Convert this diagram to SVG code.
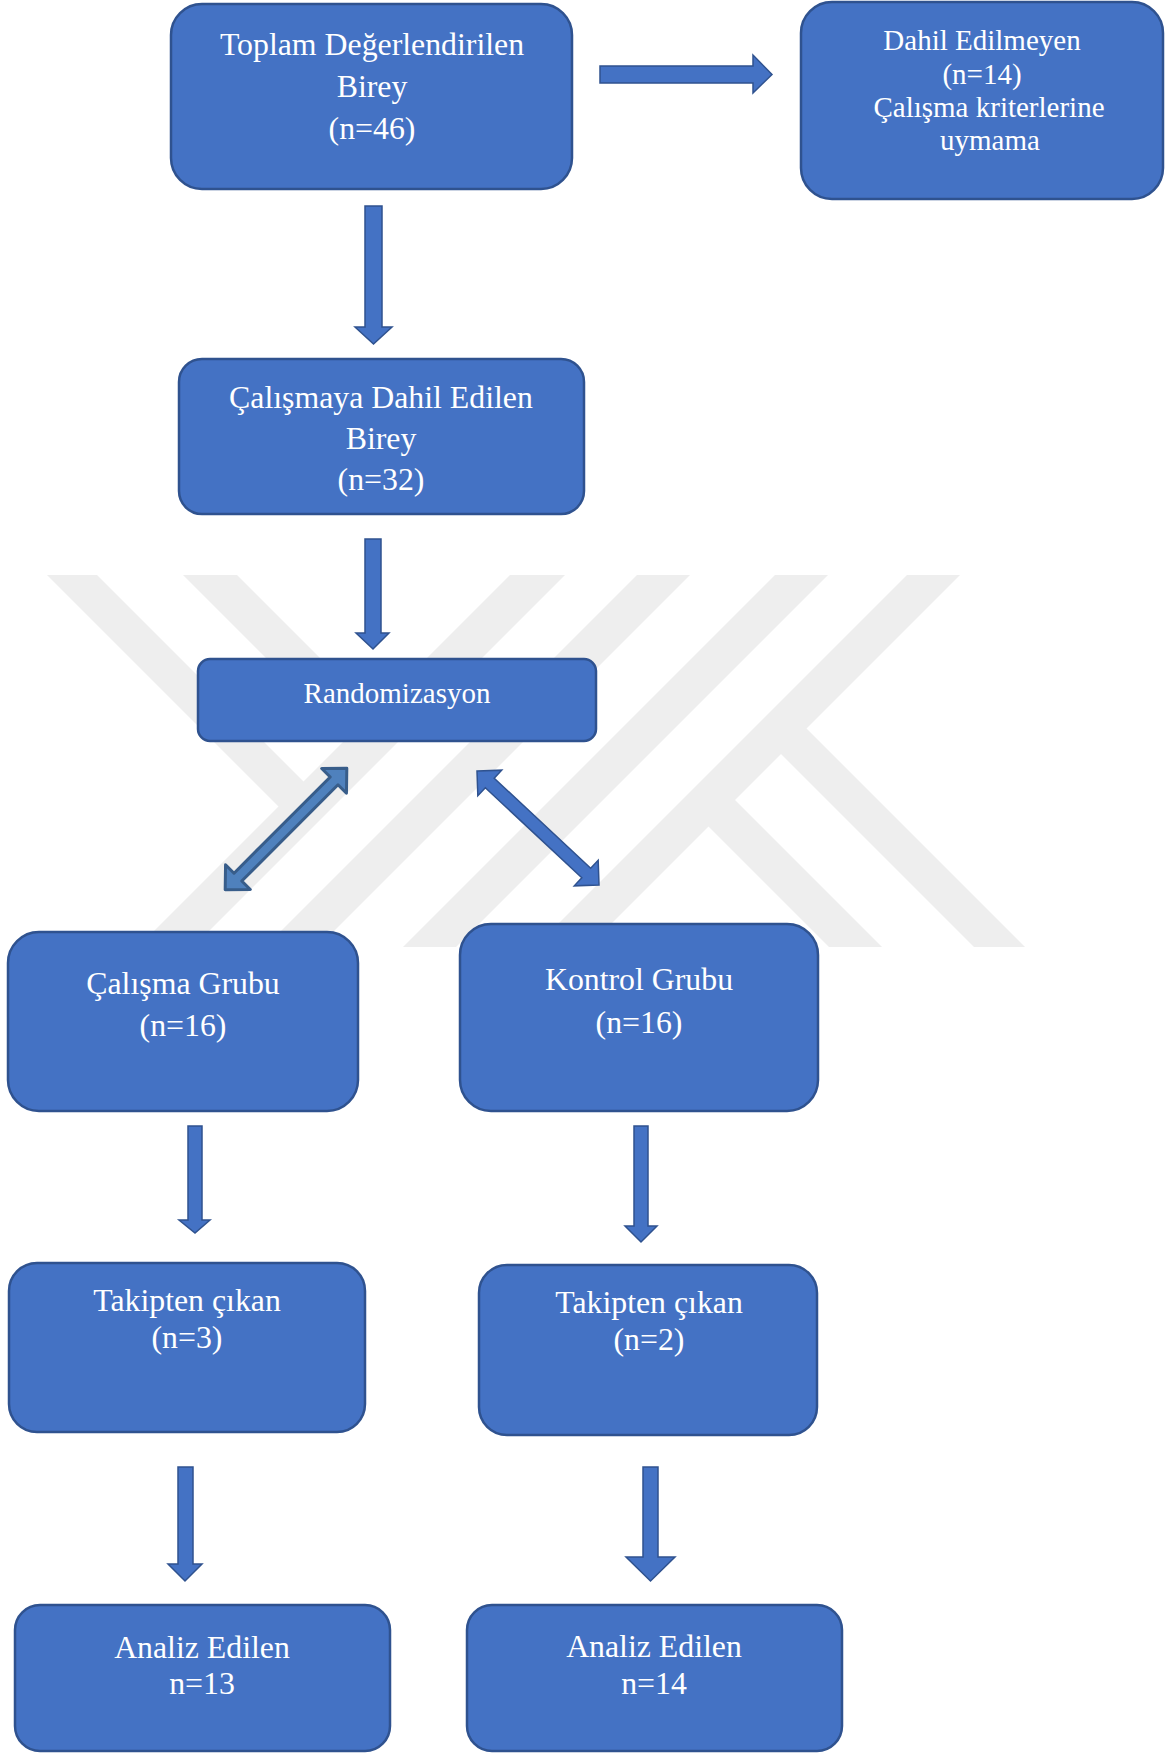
<svg xmlns="http://www.w3.org/2000/svg" width="1166" height="1753" viewBox="0 0 1166 1753">
<style>
.box{fill:#4472C4;stroke:#2F528F;stroke-width:2.5}
.t{font-family:"Liberation Serif","Times New Roman",serif;font-size:31.8px;fill:#ffffff;text-anchor:middle}
.ts{font-size:29px}
.arr{fill:#4472C4;stroke:#2F528F;stroke-width:1.5;stroke-linejoin:miter}
.arr2{fill:#4F81BD;stroke:#385D8A;stroke-width:3;stroke-linejoin:round}
.wm{fill:#eeeeee}
</style>
<rect width="1166" height="1753" fill="#ffffff"/>
<g id="watermark">
<polygon class="wm" points="510,575 565,575 193,947 138,947"/>
<polygon class="wm" points="637,575 690,575 318,947 265,947"/>
<polygon class="wm" points="775,575 828,575 456,947 403,947"/>
<polygon class="wm" points="907,575 960,575 588,947 535,947"/>
<polygon class="wm" points="47,575 97,575 311,789 286,814"/>
<polygon class="wm" points="183,575 237,575 381,719 354,746"/>
<polygon class="wm" points="799,721 1025,947 974,947 773.5,746.5"/>
<polygon class="wm" points="727.5,792.5 882,947 829,947 701,819"/>
</g>
<g id="connectors">
<polygon class="arr" points="600,66 753,66 753,55 772,74.5 753,93 753,83 600,83"/>
<polygon class="arr" points="365,206 382,206 382,327 392,327 373.5,344 355,327 365,327"/>
<polygon class="arr" points="365,539 381,539 381,633 389,633 373,649 356,633 365,633"/>
<polygon class="arr2" transform="translate(286,829) rotate(-45)" points="-86,0 -68,-17.5 -68,-5.5 68,-5.5 68,-17.5 86,0 68,17.5 68,5.5 -68,5.5 -68,17.5"/>
<polygon class="arr" transform="translate(538,828) rotate(43.06)" points="-83.5,0 -66,-17.5 -66,-6.5 66,-6.5 66,-17.5 83.5,0 66,17.5 66,6.5 -66,6.5 -66,17.5"/>
<polygon class="arr" points="188,1126 202,1126 202,1220 210,1220 195,1233 179,1220 188,1220"/>
<polygon class="arr" points="634,1126 648,1126 648,1226 657,1226 641,1242 625,1226 634,1226"/>
<polygon class="arr" points="178,1467 193,1467 193,1564 202,1564 185,1581 168,1564 178,1564"/>
<polygon class="arr" points="643,1467 658,1467 658,1557 675,1557 650.5,1581 626,1557 643,1557"/>
</g>
<g id="n-toplam">
<rect class="box" x="171" y="4" width="401" height="185" rx="31"/>
<text class="t" x="372" y="55">Toplam Değerlendirilen</text>
<text class="t" x="372" y="97">Birey</text>
<text class="t" x="372" y="139">(n=46)</text>
</g>
<g id="n-dahil-edilmeyen">
<rect class="box" x="801" y="2" width="362" height="197" rx="31"/>
<text class="t ts" x="982" y="50">Dahil Edilmeyen</text>
<text class="t ts" x="982" y="84">(n=14)</text>
<text class="t ts" x="989" y="117">Çalışma kriterlerine</text>
<text class="t ts" x="990" y="150">uymama</text>
</g>
<g id="n-dahil-edilen">
<rect class="box" x="179" y="359" width="405" height="155" rx="23"/>
<text class="t" x="381" y="408">Çalışmaya Dahil Edilen</text>
<text class="t" x="381" y="449">Birey</text>
<text class="t" x="381" y="490">(n=32)</text>
</g>
<g id="n-randomizasyon">
<rect class="box" x="198" y="659" width="398" height="82" rx="12"/>
<text class="t ts" x="397" y="703">Randomizasyon</text>
</g>
<g id="n-calisma-grubu">
<rect class="box" x="8" y="932" width="350" height="179" rx="31"/>
<text class="t" x="183" y="994">Çalışma Grubu</text>
<text class="t" x="183" y="1036">(n=16)</text>
</g>
<g id="n-kontrol-grubu">
<rect class="box" x="460" y="924" width="358" height="187" rx="31"/>
<text class="t" x="639" y="990">Kontrol Grubu</text>
<text class="t" x="639" y="1033">(n=16)</text>
</g>
<g id="n-takip-1">
<rect class="box" x="9" y="1263" width="356" height="169" rx="28"/>
<text class="t" x="187" y="1311">Takipten çıkan</text>
<text class="t" x="187" y="1348">(n=3)</text>
</g>
<g id="n-takip-2">
<rect class="box" x="479" y="1265" width="338" height="170" rx="28"/>
<text class="t" x="649" y="1313">Takipten çıkan</text>
<text class="t" x="649" y="1350">(n=2)</text>
</g>
<g id="n-analiz-1">
<rect class="box" x="15" y="1605" width="375" height="146" rx="25"/>
<text class="t" x="202" y="1658">Analiz Edilen</text>
<text class="t" x="202" y="1694">n=13</text>
</g>
<g id="n-analiz-2">
<rect class="box" x="467" y="1605" width="375" height="146" rx="25"/>
<text class="t" x="654" y="1657">Analiz Edilen</text>
<text class="t" x="654" y="1694">n=14</text>
</g>
</svg>
